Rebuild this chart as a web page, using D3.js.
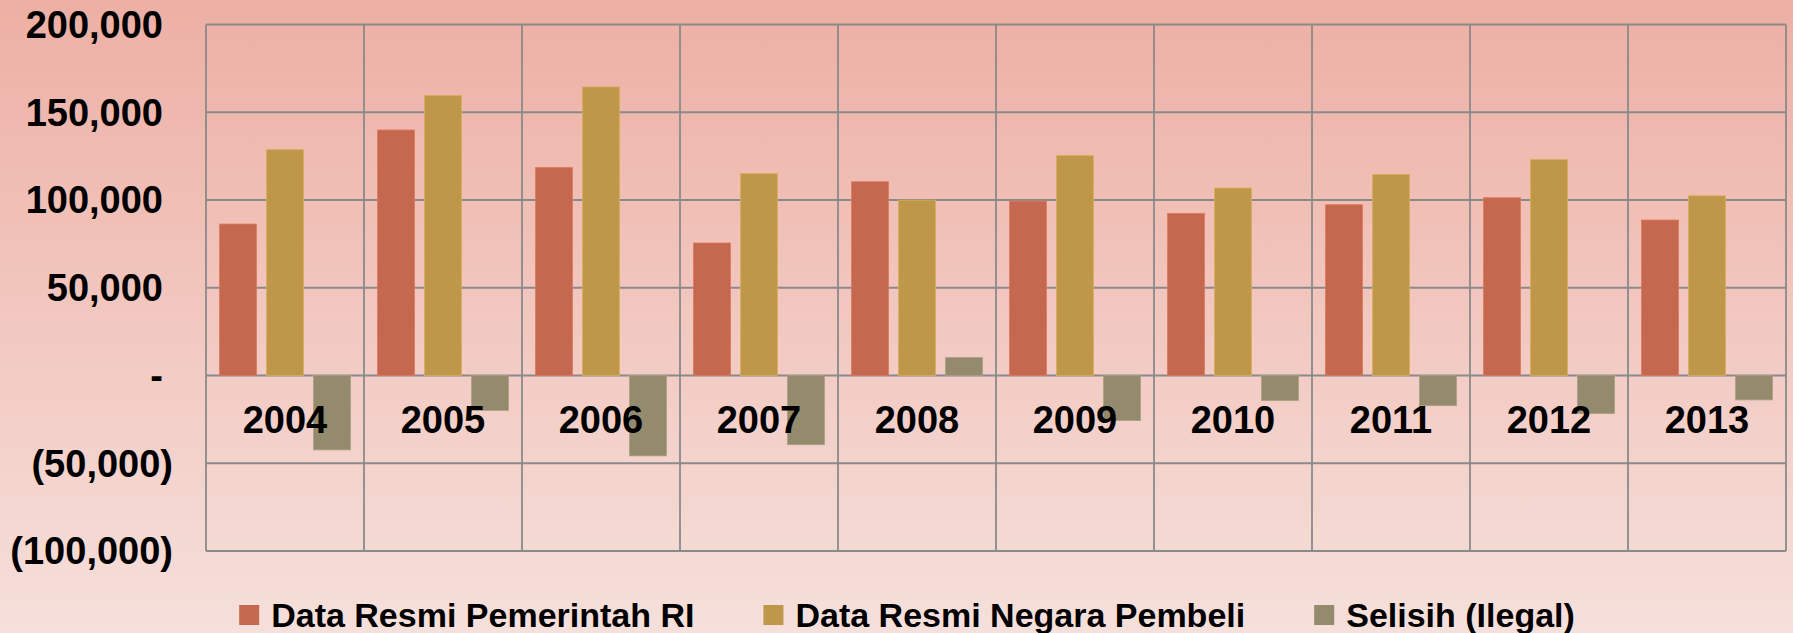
<!DOCTYPE html>
<html>
<head>
<meta charset="utf-8">
<script src="https://cdn.jsdelivr.net/npm/d3@7"></script>
<style>
    html, body { margin: 0; padding: 0; }
    body { width: 1793px; height: 633px; overflow: hidden; }
    text { font-family: "Liberation Sans", Arial, sans-serif; fill: #000; }
</style>
</head>
<body>
<div id="chart"></div>
<script>
// Data
const years = ["2004", "2005", "2006", "2007", "2008", "2009", "2010", "2011", "2012", "2013"];
const seriesNames = ["Data Resmi Pemerintah RI", "Data Resmi Negara Pembeli", "Selisih (Ilegal)"];
const seriesColors = ["#c4684f", "#be974b", "#948b6e"];
const dataRI = [86300, 139900, 118600, 75500, 110400, 99400, 92400, 97300, 101300, 88600];
const dataPembeli = [128700, 159600, 164400, 115000, 99900, 125300, 106800, 114600, 123000, 102400];
const dataSelisih = [-42400, -19900, -45800, -39400, 10200, -25700, -14300, -17200, -21700, -13900];
const yTicks = [-100000, -50000, 0, 50000, 100000, 150000, 200000];

const width = 1793;
const height = 633;
const margin = { top: 24.5, right: 7, bottom: 82, left: 206 };

const svg = d3.select("#chart")
    .append("svg")
    .attr("width", width)
    .attr("height", height);

// background gradient
const defs = svg.append("defs");
const grad = defs.append("linearGradient")
    .attr("id", "bg")
    .attr("x1", 0).attr("y1", 0).attr("x2", 0).attr("y2", 1);
grad.append("stop").attr("offset", "0%").attr("stop-color", "#edafa4");
grad.append("stop").attr("offset", "100%").attr("stop-color", "#f6e0db");

svg.append("rect")
    .attr("width", width)
    .attr("height", height)
    .attr("fill", "url(#bg)");

const x0 = d3.scaleBand()
    .domain(years)
    .range([margin.left, width - margin.right])
    .padding(0);

const x1 = d3.scaleBand()
    .domain(seriesNames)
    .range([13.5, x0.bandwidth() - 13.5])
    .paddingInner(0.213)
    .paddingOuter(0);

const y = d3.scaleLinear()
    .domain([-100000, 200000])
    .range([height - margin.bottom, margin.top]);

const rows = years.map((yr, i) => ({
    year: yr,
    values: [dataRI[i], dataPembeli[i], dataSelisih[i]]
}));

// grid
const grid = svg.append("g").attr("stroke", "#8a8a8a").attr("stroke-width", 1.8);
grid.selectAll(".hline")
    .data(yTicks)
    .enter()
    .append("line")
    .attr("x1", margin.left)
    .attr("x2", width - margin.right)
    .attr("y1", d => y(d))
    .attr("y2", d => y(d));

const vlines = years.map(yr => x0(yr)).concat([width - margin.right]);
grid.selectAll(".vline")
    .data(vlines)
    .enter()
    .append("line")
    .attr("x1", d => d)
    .attr("x2", d => d)
    .attr("y1", y(200000))
    .attr("y2", y(-100000));

// bars
const groups = svg.selectAll(".year")
    .data(rows)
    .enter()
    .append("g")
    .attr("transform", d => `translate(${x0(d.year)},0)`);

groups.selectAll("rect")
    .data(d => d.values.map((v, i) => ({ name: seriesNames[i], value: v, color: seriesColors[i] })))
    .enter()
    .append("rect")
    .attr("x", d => x1(d.name))
    .attr("width", x1.bandwidth())
    .attr("y", d => y(Math.max(0, d.value)))
    .attr("height", d => Math.abs(y(d.value) - y(0)))
    .attr("fill", d => d.color)
    .attr("stroke", d => d3.color(d.color).brighter(0.4))
    .attr("stroke-width", 0.8);

// y axis labels
const fmt = d3.format(",");
const yLabel = v => v === 0 ? "-" : (v < 0 ? "(" + fmt(-v) + ")" : fmt(v));

svg.append("g")
    .selectAll("text")
    .data(yTicks)
    .enter()
    .append("text")
    .attr("x", d => d < 0 ? 173 : 163)
    .attr("y", d => y(d))
    .attr("dy", "0.35em")
    .attr("text-anchor", "end")
    .style("font-size", "38px")
    .style("font-weight", "bold")
    .text(yLabel);

// category labels
svg.append("g")
    .selectAll("text")
    .data(years)
    .enter()
    .append("text")
    .attr("x", d => x0(d) + x0.bandwidth() / 2)
    .attr("y", 420)
    .attr("dy", "0.35em")
    .attr("text-anchor", "middle")
    .style("font-size", "38px")
    .style("font-weight", "bold")
    .text(d => d);

// legend
const legend = svg.append("g");
const items = legend.selectAll("g")
    .data(seriesNames)
    .enter()
    .append("g");

items.append("rect")
    .attr("width", 20)
    .attr("height", 20)
    .attr("y", 605)
    .attr("fill", (d, i) => seriesColors[i]);

items.append("text")
    .attr("x", 32)
    .attr("y", 615)
    .attr("dy", "0.35em")
    .style("font-size", "34px")
    .style("font-weight", "bold")
    .text(d => d);

const itemGap = 69;
let offset = 0;
const widths = [];
items.each(function () {
    const w = d3.select(this).select("text").node().getComputedTextLength() + 32;
    widths.push(w);
});
const total = d3.sum(widths) + itemGap * (widths.length - 1);
offset = 907 - total / 2;
items.attr("transform", (d, i) => {
    const tx = offset;
    offset += widths[i] + itemGap;
    return `translate(${tx},0)`;
});
</script>
</body>
</html>
